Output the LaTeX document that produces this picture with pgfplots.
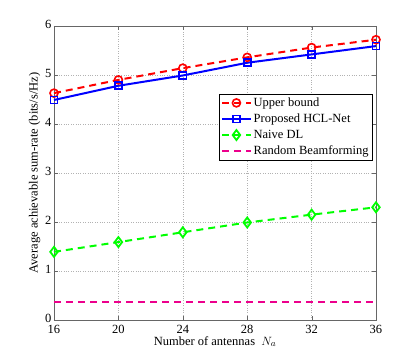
\documentclass[border=0pt]{standalone}
\usepackage{fontspec}
\setmainfont{Liberation Serif}
\usepackage{pgfplots}
\pgfplotsset{compat=1.18}

\begin{document}
\begin{tikzpicture}
\begin{axis}[
    name=ax,
    scale only axis,
    width=322pt, height=294pt,
    xmin=16, xmax=36,
    ymin=0, ymax=6,
    xtick={16,20,24,28,32,36},
    ytick={0,1,2,3,4,5,6},
    tick align=inside,
    xtick pos=both, ytick pos=both,
    major tick length=4pt,
    axis line style={black!60, line width=0.8pt},
    tick style={black!60},
    grid=major,
    grid style={dotted, gray!60},
    font=\fontsize{12.5}{14}\selectfont,
    tick label style={font=\fontsize{12.5}{14}\selectfont},
    yticklabel style={xshift=1pt, yshift=2pt},
    xticklabel style={yshift=-1.5pt},
    /pgf/number format/assume math mode=true,
    xlabel={Number of antennas\ \ $N_a$},
    ylabel={Average achievable sum-rate (bits/s/Hz)},
    xlabel style={yshift=4pt},
    ylabel style={yshift=-2pt},
    legend style={at={(0.99,0.77)}, anchor=north east, draw=black,
        font=\fontsize{12.5}{13}\selectfont, row sep=2pt,
        inner sep=2pt, cells={anchor=west}},
    legend image code/.code={%
        \draw[mark repeat=2,mark phase=2,#1]
        plot coordinates {(0cm,0cm) (0.5cm,0cm) (1cm,0cm)};},
    legend cell align=left,
]
\addplot[red, line width=2pt, dash pattern=on 7pt off 5pt,
    mark=o, mark size=4pt, mark options={solid, line width=1.6pt}]
coordinates {(16,4.63) (20,4.9) (24,5.14) (28,5.36) (32,5.56) (36,5.72)};
\addlegendentry{Upper bound}
\addplot[blue, line width=2pt,
    mark=square, mark size=3.5pt, mark options={solid, line width=1.6pt}]
coordinates {(16,4.49) (20,4.78) (24,4.99) (28,5.25) (32,5.42) (36,5.59)};
\addlegendentry{Proposed HCL-Net}
\addplot[green, line width=2pt, dash pattern=on 7pt off 5pt,
    mark=diamond, mark size=5pt, mark options={solid, line width=1.8pt}]
coordinates {(16,1.39) (20,1.59) (24,1.79) (28,1.99) (32,2.15) (36,2.30)};
\addlegendentry{Naive DL}
\addplot[magenta, line width=2pt, dash pattern=on 7pt off 5pt]
coordinates {(16,0.37) (20,0.37) (24,0.37) (28,0.37) (32,0.37) (36,0.37)};
\addlegendentry{Random Beamforming}
\end{axis}
\path (ax.south west) ++(-54pt,-40pt) coordinate (bl);
\path (ax.north east) ++(39pt,26pt) coordinate (tr);
\useasboundingbox (bl) rectangle (tr);
\end{tikzpicture}
\end{document}
